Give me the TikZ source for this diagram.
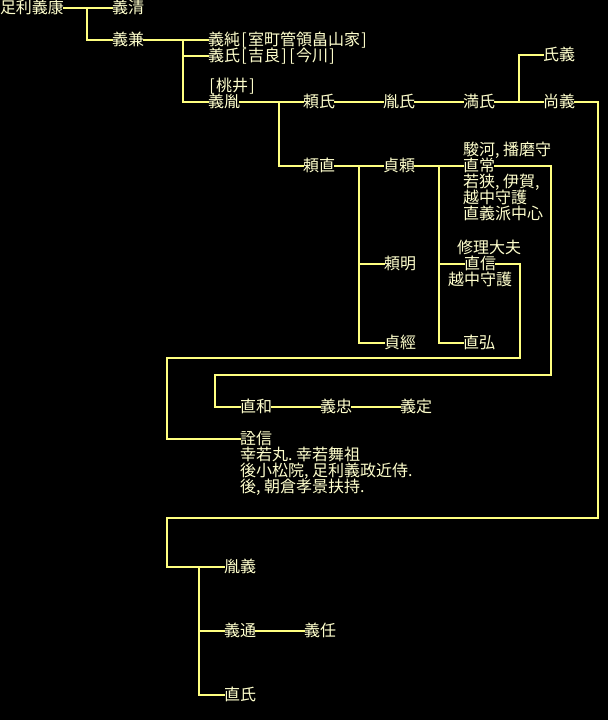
\documentclass[tikz,border=0pt]{standalone}
\usepackage{fontspec}
\setmainfont{Noto Sans CJK JP}
\definecolor{lineyel}{RGB}{255,255,128}
\definecolor{txtyel}{RGB}{255,255,205}
\newcommand{\hc}{\makebox[0.5em][l]{,}}
\newcommand{\hp}{\makebox[0.5em][l]{.}}
\newcommand{\lbk}{\makebox[0.5em][c]{[}}
\newcommand{\rbk}{\makebox[0.5em][c]{]}}
\begin{document}
\begin{tikzpicture}[x=1pt,y=-1pt,
  nm/.style={anchor=west,inner sep=0pt,outer sep=0pt,text=txtyel,
    font=\fontsize{16}{16}\selectfont,text height=13.5pt,text depth=2pt},
  ln/.style={draw=lineyel,line width=1.8pt,line cap=rect}]
\fill[black] (0,0) rectangle (608,720);
\useasboundingbox (0,0) rectangle (608,720);
% names
\node[nm] (a) at (0,8) {足利義康};
\node[nm] (b) at (112,8) {義清};
\node[nm] (c) at (112,40) {義兼};
\node[nm] (d) at (208,40) {義純\lbk 室町管領畠山家\rbk};
\node[nm] (e) at (208,56) {義氏\lbk 吉良\rbk\lbk 今川\rbk};
\node[nm] (f0) at (208,86) {\lbk 桃井\rbk};
\node[nm] (f) at (208,102) {義胤};
\node[nm] (g) at (303,102) {頼氏};
\node[nm] (h) at (303,166) {頼直};
\node[nm] (i) at (383,102) {胤氏};
\node[nm] (j) at (463,102) {満氏};
\node[nm] (k) at (543,55) {氏義};
\node[nm] (l) at (543,102) {尚義};
\node[nm] (m) at (383,166) {貞頼};
\node[nm] (n) at (384,264) {頼明};
\node[nm] (o) at (384,343) {貞經};
\node[nm] (p0) at (463,150) {駿河\hc 播磨守};
\node[nm] (p) at (463,166) {直常};
\node[nm] (p1) at (463,182) {若狭\hc 伊賀\hc};
\node[nm] (p2) at (463,198) {越中守護};
\node[nm] (p3) at (463,214) {直義派中心};
\node[nm] (q0) at (457,248) {修理大夫};
\node[nm] (q) at (464,264) {直信};
\node[nm] (q1) at (448,280) {越中守護};
\node[nm] (r) at (463,343) {直弘};
\node[nm] (s) at (240,407) {直和};
\node[nm] (t) at (320,407) {義忠};
\node[nm] (u) at (400,407) {義定};
\node[nm] (v) at (240,439) {詮信};
\node[nm] (v1) at (240,455) {幸若丸\hp 幸若舞祖};
\node[nm] (v2) at (240,471) {後小松院\hc 足利義政近侍\hp};
\node[nm] (v3) at (240,487) {後\hc 朝倉孝景扶持\hp};
\node[nm] (w) at (224,567) {胤義};
\node[nm] (x) at (224,631) {義通};
\node[nm] (y) at (304,631) {義任};
\node[nm] (z) at (224,695) {直氏};
% junctions
\coordinate (ja) at (87,8);
\coordinate (jc) at (183,40);
\coordinate (jf) at (279,102);
\coordinate (jj) at (519,102);
\coordinate (jh) at (359,166);
\coordinate (jm) at (439,166);
\coordinate (jw) at (199,567);
% connectors
\draw[ln] (a.east) -- (b.west);
\draw[ln] (ja) |- (c.west);
\draw[ln] (c.east) -- (d.west);
\draw[ln] (jc) |- (e.west);
\draw[ln] (jc) |- (f.west);
\draw[ln] (f.east) -- (g.west);
\draw[ln] (jf) |- (h.west);
\draw[ln] (g.east) -- (i.west);
\draw[ln] (i.east) -- (j.west);
\draw[ln] (j.east) -- (l.west);
\draw[ln] (jj) |- (k.west);
\draw[ln] (h.east) -- (m.west);
\draw[ln] (jh) |- (n.west);
\draw[ln] (jh) |- (o.west);
\draw[ln] (m.east) -- (p.west);
\draw[ln] (jm) |- (q.west);
\draw[ln] (jm) |- (r.west);
\draw[ln] (p.east) -- (551,166) -- (551,375) -- (215,375) -- (215,407) -- (s.west);
\draw[ln] (q.east) -- (520,264) -- (520,358) -- (167,358) -- (167,439) -- (v.west);
\draw[ln] (l.east) -- (598,102) -- (598,518) -- (167,518) -- (167,567) -- (w.west);
\draw[ln] (s.east) -- (t.west);
\draw[ln] (t.east) -- (u.west);
\draw[ln] (jw) |- (x.west);
\draw[ln] (jw) |- (z.west);
\draw[ln] (x.east) -- (y.west);
\end{tikzpicture}
\end{document}
